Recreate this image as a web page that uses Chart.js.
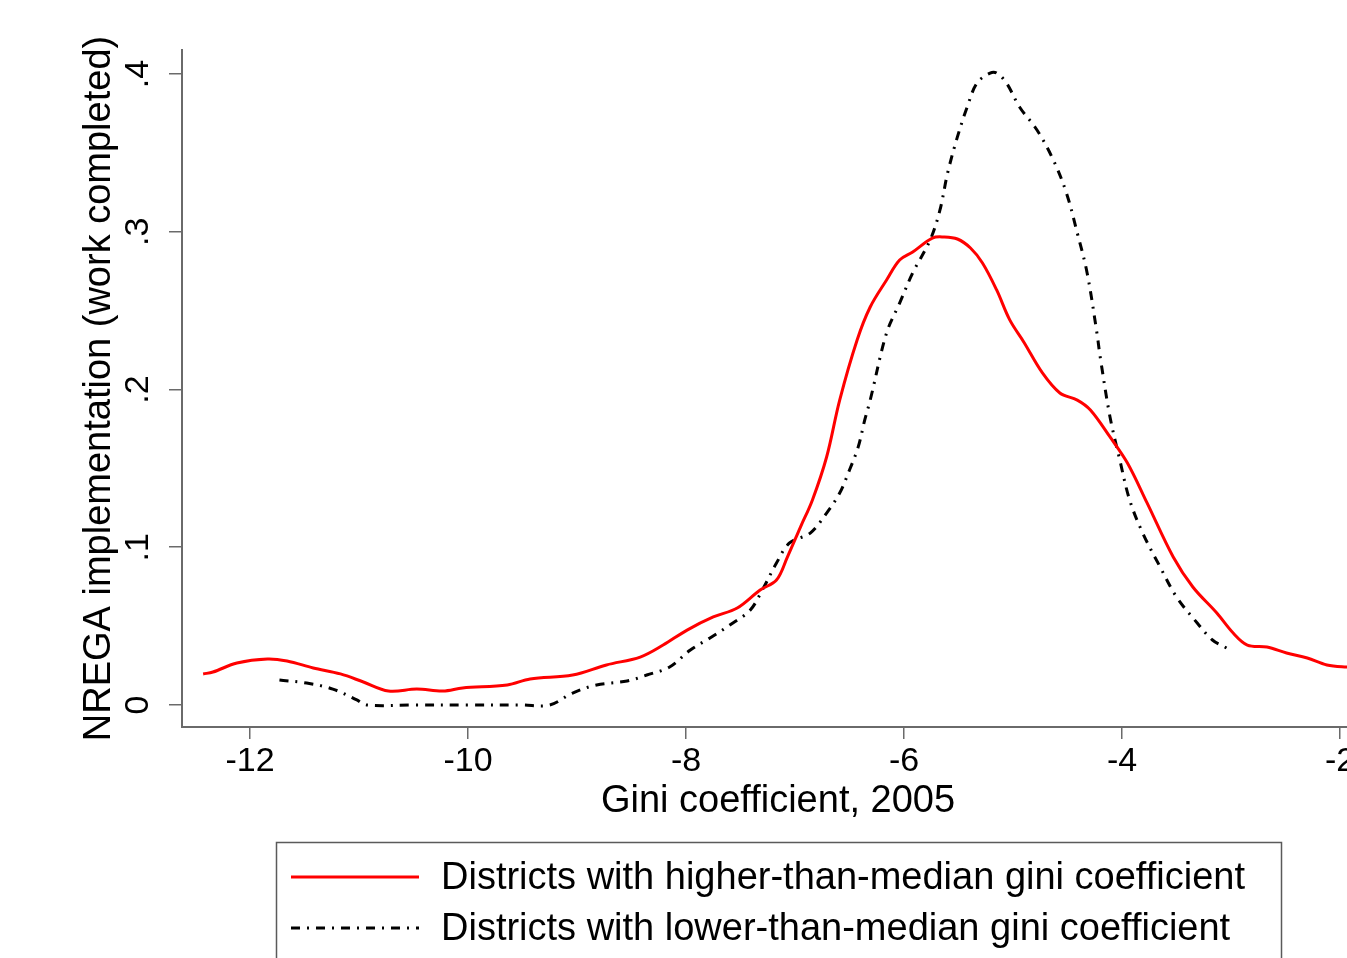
<!DOCTYPE html>
<html>
<head>
<meta charset="utf-8">
<script src="https://cdn.jsdelivr.net/npm/chart.js@4/dist/chart.umd.min.js"></script>
<style>
html,body{margin:0;padding:0;background:#fff;overflow:hidden;width:1347px;height:958px;}
canvas{display:block;}
</style>
</head>
<body>
<canvas id="c" width="1400" height="958" style="width:1400px;height:958px"></canvas>
<script>
// ---- data ----
const higherX = [-12.43,-12.34,-12.12,-11.84,-11.66,-11.42,-11.17,-10.96,-10.73,-10.47,-10.23,-10.05,-9.64,-9.43,-9.04,-8.73,-8.42,-8.21,-7.99,-7.75,-7.53,-7.32,-7.17,-7.07,-6.95,-6.84,-6.71,-6.59,-6.43,-6.31,-6.16,-6.04,-5.92,-5.74,-5.64,-5.51,-5.39,-5.28,-5.15,-5.03,-4.90,-4.73,-4.57,-4.41,-4.29,-4.11,-3.95,-3.77,-3.53,-3.35,-3.13,-2.98,-2.85,-2.67,-2.49,-2.30,-2.12,-1.94,-1.80];
const higherY = [0.0197,0.0209,0.0266,0.0292,0.0279,0.0235,0.0197,0.0146,0.0089,0.0101,0.0089,0.0108,0.0127,0.0165,0.0190,0.0254,0.0304,0.0380,0.0475,0.0558,0.0615,0.0729,0.0792,0.0938,0.1128,0.1300,0.1572,0.1933,0.2314,0.2523,0.2694,0.2821,0.2872,0.2960,0.2967,0.2954,0.2897,0.2802,0.2631,0.2441,0.2300,0.2105,0.1978,0.1933,0.1870,0.1699,0.1534,0.1281,0.0938,0.0748,0.0583,0.0456,0.0380,0.0368,0.0330,0.0298,0.0254,0.0241,0.0238];
const lowerX = [-11.73,-11.48,-11.24,-11.02,-10.93,-10.5,-10.0,-9.5,-9.25,-9.04,-8.82,-8.54,-8.36,-8.15,-7.96,-7.78,-7.57,-7.41,-7.29,-7.17,-7.05,-6.86,-6.71,-6.59,-6.50,-6.42,-6.36,-6.31,-6.16,-6.04,-5.92,-5.76,-5.67,-5.60,-5.51,-5.42,-5.33,-5.21,-5.15,-5.06,-4.94,-4.78,-4.63,-4.51,-4.41,-4.32,-4.23,-4.20,-4.11,-4.02,-3.93,-3.81,-3.65,-3.50,-3.31,-3.17,-3.04];
const lowerY = [0.0158,0.0139,0.0101,0.0032,0.0,0.0,0.0,0.0,0.0,0.0076,0.0127,0.0152,0.0190,0.0241,0.0349,0.0425,0.0520,0.0602,0.0742,0.0900,0.1027,0.1090,0.1217,0.1344,0.1490,0.1636,0.1807,0.1933,0.2358,0.2548,0.2739,0.2948,0.3138,0.3372,0.3601,0.3791,0.3943,0.4006,0.4006,0.3943,0.3791,0.3645,0.3455,0.3246,0.2992,0.2739,0.2358,0.2206,0.1826,0.1553,0.1300,0.1090,0.0875,0.0685,0.0520,0.0412,0.0361];
const xTickValues = [-12,-10,-8,-6,-4,-2];
const yTickValues = [0,0.1,0.2,0.3,0.4];
const yTickLabels = ['0','.1','.2','.3','.4'];
const seriesNames = ['Districts with higher-than-median gini coefficient','Districts with lower-than-median gini coefficient'];
const xTitle = 'Gini coefficient, 2005';
const yTitle = 'NREGA implementation (work completed)';

const FONT = '"Liberation Sans", Arial, sans-serif';
const AXIS = '#6a6a6a';

const toPts = (xs, ys) => xs.map((x, i) => ({x: x, y: ys[i]}));

const yLabelPlugin = {
  id: 'yLabels',
  afterDraw(chart) {
    const ctx = chart.ctx, ys = chart.scales.y;
    ctx.save();
    ctx.fillStyle = '#000';
    ctx.font = '34px ' + FONT;
    ctx.textAlign = 'center';
    ctx.textBaseline = 'middle';
    yTickValues.forEach((v, i) => {
      const py = ys.getPixelForValue(v);
      ctx.save();
      ctx.translate(139, py);
      ctx.rotate(-Math.PI / 2);
      ctx.fillText(yTickLabels[i], 0, 0);
      ctx.restore();
    });
    ctx.restore();
  }
};

const legendPlugin = {
  id: 'boxLegend',
  afterDraw(chart) {
    const ctx = chart.ctx;
    ctx.save();
    ctx.strokeStyle = '#5a5a5a';
    ctx.lineWidth = 1.5;
    ctx.strokeRect(276.5, 842.5, 1005, 140);
    ctx.font = '38px ' + FONT;
    ctx.fillStyle = '#000';
    ctx.textAlign = 'left';
    ctx.textBaseline = 'middle';
    const rows = [877, 928];
    chart.data.datasets.forEach((ds, i) => {
      ctx.save();
      ctx.strokeStyle = ds.borderColor;
      ctx.lineWidth = ds.borderWidth;
      ctx.setLineDash(ds.borderDash || []);
      ctx.beginPath();
      ctx.moveTo(291, rows[i]);
      ctx.lineTo(419, rows[i]);
      ctx.stroke();
      ctx.restore();
      ctx.fillText(ds.label, 441, rows[i] + 2);
    });
    ctx.restore();
  }
};

new Chart(document.getElementById('c'), {
  type: 'line',
  data: {
    datasets: [
      {label: seriesNames[0], data: toPts(higherX, higherY), borderColor: '#ff0000', borderWidth: 3, pointRadius: 0, tension: 0.35, fill: false},
      {label: seriesNames[1], data: toPts(lowerX, lowerY), borderColor: '#000000', borderWidth: 3, borderDash: [9, 7, 2, 7], pointRadius: 0, tension: 0.35, fill: false}
    ]
  },
  options: {
    responsive: false,
    animation: false,
    devicePixelRatio: 1,
    layout: {padding: {top: 50, right: 26, left: 0, bottom: 0}},
    plugins: {legend: {display: false}, tooltip: {enabled: false}},
    scales: {
      x: {
        type: 'linear',
        min: -12.624, max: -1.688,
        afterBuildTicks: s => { s.ticks = xTickValues.map(v => ({value: v})); },
        afterFit: s => { s.height = 231; },
        grid: {display: true, drawOnChartArea: false, drawTicks: true, tickLength: 12, color: AXIS, lineWidth: 1.5},
        border: {display: true, color: AXIS, width: 2},
        ticks: {color: '#000', font: {family: FONT, size: 34}, padding: 2, maxRotation: 0, autoSkip: false,
                callback: v => String(v)},
        title: {display: true, text: xTitle, color: '#000', font: {family: FONT, size: 38}, padding: {top: 0, bottom: 134}}
      },
      y: {
        type: 'linear',
        min: -0.013946, max: 0.41521,
        afterBuildTicks: s => { s.ticks = yTickValues.map(v => ({value: v})); },
        afterFit: s => { s.width = 182; },
        grid: {display: true, drawOnChartArea: false, drawTicks: true, tickLength: 13, color: AXIS, lineWidth: 1.5},
        border: {display: true, color: AXIS, width: 2},
        ticks: {display: false},
        title: {display: true, text: yTitle, color: '#000', font: {family: FONT, size: 38}, padding: {top: 77, bottom: 0}}
      }
    }
  },
  plugins: [yLabelPlugin, legendPlugin]
});
</script>
</body>
</html>
